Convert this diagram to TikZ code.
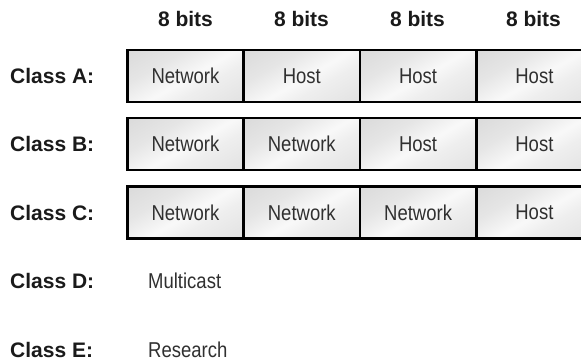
\documentclass[tikz,border=0pt]{standalone}
\usepackage{fontspec}
\setmainfont{Liberation Sans}
\newfontfamily\condfont[FakeStretch=0.86]{Liberation Sans}
\definecolor{txtgray}{HTML}{303030}
\definecolor{lblblack}{HTML}{1A1A1A}
\pgfdeclarehorizontalshading{cellshade}{100bp}{color(0bp)=(gray!36); color(35bp)=(gray!20); color(52bp)=(gray!5); color(62bp)=(gray!13); color(100bp)=(gray!30)}
\begin{document}
\begin{tikzpicture}[x=1pt,y=-1pt,
  cell/.style={draw=black, line width=2.6pt, shading=cellshade, shading angle=-60,
    minimum width=116.3pt, minimum height=52pt, inner sep=0pt,
    font=\condfont\fontsize{21.5}{25}\selectfont, text=txtgray},
  head/.style={font=\bfseries\fontsize{21}{25}\selectfont, text=lblblack, inner sep=0pt},
  cls/.style={font=\bfseries\fontsize{21}{25}\selectfont, text=lblblack, anchor=west, inner sep=0pt},
  plain/.style={font=\condfont\fontsize{21.5}{25}\selectfont, text=txtgray, anchor=west, inner sep=0pt}]
\useasboundingbox (0,0) rectangle (581,363);
\clip (0,0) rectangle (581,363);
% headers
\node[head] (h1) at (185.5,19) {8 bits};
\node[head] (h2) at (301.5,19) {8 bits};
\node[head] (h3) at (417.5,19) {8 bits};
\node[head] (h4) at (533.5,19) {8 bits};
% class labels
\node[cls] (ca) at (10,76) {Class A:};
\node[cls] (cb) at (10,144) {Class B:};
\node[cls] (cc) at (10,212.5) {Class C:};
\node[cls] (cd) at (10,281) {Class D:};
\node[cls] (ce) at (10,350) {Class E:};
% row A
\node[cell] (a1) at (185.5,76) {Network};
\node[cell] (a2) at (301.8,76) {Host};
\node[cell] (a3) at (418.1,76) {Host};
\node[cell] (a4) at (534.4,76) {Host};
% row B
\node[cell] (b1) at (185.5,144) {Network};
\node[cell] (b2) at (301.8,144) {Network};
\node[cell] (b3) at (418.1,144) {Host};
\node[cell] (b4) at (534.4,144) {Host};
% row C
\node[cell] (c1) at (185.5,212.5) {Network};
\node[cell] (c2) at (301.8,212.5) {Network};
\node[cell] (c3) at (418.1,212.5) {Network};
\node[cell] (c4) at (534.4,212.5) {Host};
% D, E
\node[plain] (dm) at (148,281) {Multicast};
\node[plain] (er) at (148,350) {Research};
\end{tikzpicture}
\end{document}
